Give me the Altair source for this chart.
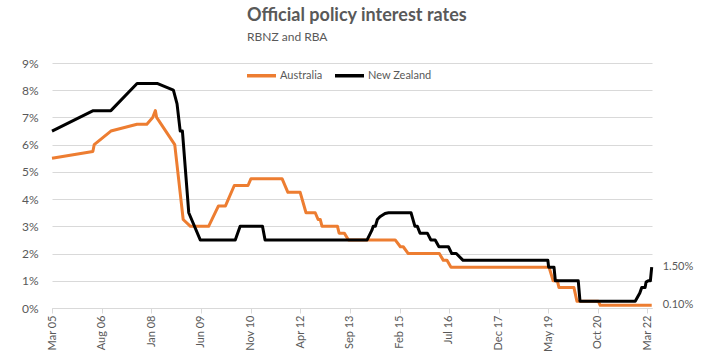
import altair as alt
import pandas as pd

# ---- data (vertices of each line) ----
aus_dates = [
    "2005-03-01", "2006-05-01", "2006-05-15", "2006-11-05", "2007-08-05", "2007-11-15",
    "2008-01-15", "2008-02-12", "2008-02-25", "2008-09-01", "2008-11-28", "2009-02-12",
    "2009-08-20", "2009-12-01", "2010-02-12", "2010-05-15", "2010-10-05", "2010-11-05",
    "2011-09-25", "2011-11-25", "2012-04-01", "2012-06-01", "2012-09-05", "2012-10-05",
    "2012-10-28", "2012-11-15", "2013-04-25", "2013-05-12", "2013-07-05", "2013-08-18",
    "2014-12-18", "2015-02-10", "2015-03-12", "2015-05-03", "2016-03-22", "2016-05-03",
    "2016-06-10", "2016-07-22", "2019-05-10", "2019-06-22", "2019-08-05", "2019-08-22",
    "2020-01-25", "2020-02-25", "2020-10-05", "2020-10-25", "2022-04-15",
]
aus_values = [
    5.5, 5.75, 6.0, 6.5, 6.75, 6.75,
    7.0, 7.25, 7.0, 6.0, 3.25, 3.0,
    3.0, 3.75, 3.75, 4.5, 4.5, 4.75,
    4.75, 4.25, 4.25, 3.5, 3.5, 3.25,
    3.25, 3.0, 3.0, 2.75, 2.75, 2.5,
    2.5, 2.25, 2.25, 2.0, 2.0, 1.75,
    1.75, 1.5, 1.5, 1.0, 1.0, 0.75,
    0.75, 0.25, 0.25, 0.1, 0.1,
]

nz_dates = [
    "2005-03-01", "2006-05-05", "2006-11-05", "2007-08-05", "2008-03-01", "2008-08-18",
    "2008-09-25", "2008-10-28", "2008-11-20", "2009-01-25", "2009-05-25", "2010-05-25",
    "2010-07-15", "2011-03-05", "2011-04-01", "2014-02-28", "2014-04-18", "2014-05-03",
    "2014-05-25", "2014-06-15", "2014-07-12", "2014-09-03", "2014-10-10", "2015-06-01",
    "2015-07-12", "2015-08-06", "2015-09-03", "2015-11-18", "2015-12-25", "2016-02-08",
    "2016-03-18", "2016-06-25", "2016-07-30", "2016-09-15", "2016-11-25", "2019-04-28",
    "2019-05-06", "2019-07-01", "2019-07-15", "2020-03-10", "2020-03-28", "2021-10-25",
    "2021-12-12", "2022-01-01", "2022-02-05", "2022-02-15", "2022-03-10", "2022-04-01",
    "2022-04-15",
]
nz_values = [
    6.5, 7.25, 7.25, 8.25, 8.25, 8.0,
    7.5, 6.5, 6.5, 3.5, 2.5, 2.5,
    3.0, 3.0, 2.5, 2.5, 2.85, 3.0,
    3.0, 3.25, 3.35, 3.47, 3.5, 3.5,
    3.0, 3.0, 2.75, 2.75, 2.5, 2.5,
    2.25, 2.25, 2.0, 2.0, 1.75, 1.75,
    1.5, 1.5, 1.0, 1.0, 0.25, 0.25,
    0.55, 0.75, 0.75, 0.95, 1.0, 1.0,
    1.5,
]

series_names = ["Australia", "New Zealand"]
series_colors = ["#ED7D31", "#000000"]

# x-axis tick labels (year, month)
tick_months = [
    (2005, 3), (2006, 8), (2008, 1), (2009, 6), (2010, 11), (2012, 4), (2013, 9),
    (2015, 2), (2016, 7), (2017, 12), (2019, 5), (2020, 10), (2022, 3),
]
y_ticks = list(range(0, 10))

end_labels = ["1.50%", "0.10%"]
end_values = [1.5, 0.1]
end_date = "2022-04-15"

# ---- tables ----
df = pd.concat([
    pd.DataFrame({"date": pd.to_datetime(aus_dates), "rate": aus_values, "series": "Australia"}),
    pd.DataFrame({"date": pd.to_datetime(nz_dates), "rate": nz_values, "series": "New Zealand"}),
], ignore_index=True)
df["order"] = range(len(df))

lab = pd.DataFrame({"date": pd.to_datetime([end_date] * 2), "rate": end_values, "label": end_labels})

FONT = "Lato"
GREY = "#595959"

x_scale = alt.Scale(domain=[alt.DateTime(year=2005, month=3, date=1),
                            alt.DateTime(year=2022, month=4, date=18)])
y_scale = alt.Scale(domain=[0, 9], nice=False)

x_axis = alt.Axis(values=[alt.DateTime(year=y, month=m, date=1) for y, m in tick_months],
                  format="%b %y", labelAngle=-90, grid=False,
                  domainColor="#D9D9D9", tickColor="#D9D9D9", tickSize=5,
                  labelPadding=2, labelFont=FONT, labelFontSize=11, labelColor=GREY)
y_axis = alt.Axis(values=y_ticks, labelExpr="datum.value + '%'", domain=False,
                  ticks=False, grid=True, gridColor="#D9D9D9", labelPadding=14,
                  labelFont=FONT, labelFontSize=12, labelColor=GREY)

lines = alt.Chart(df).mark_line(strokeWidth=3, strokeJoin="round").encode(
    x=alt.X("date:T", scale=x_scale, title=None, axis=x_axis),
    y=alt.Y("rate:Q", scale=y_scale, title=None, axis=y_axis),
    color=alt.Color("series:N",
                    scale=alt.Scale(domain=series_names, range=series_colors),
                    legend=alt.Legend(title=None, orient="none", legendX=193, legendY=-4,
                                      direction="horizontal", symbolType="stroke",
                                      symbolStrokeWidth=3.5, symbolSize=841,
                                      labelFont=FONT, labelFontSize=11, labelColor=GREY,
                                      labelOffset=2, columnPadding=5, padding=0)),
    order="order:Q",
)

texts = alt.Chart(lab).mark_text(align="left", baseline="middle", dx=11,
                                 font=FONT, fontSize=11, color=GREY).encode(
    x=alt.X("date:T", scale=x_scale, title=None, axis=x_axis),
    y=alt.Y("rate:Q", scale=y_scale, title=None, axis=y_axis),
    text="label:N",
)

chart = alt.layer(lines, texts).properties(
    width=600, height=245,
    autosize=alt.AutoSizeParams(type="none"),
    padding={"left": 52, "top": 63, "right": 55, "bottom": 47},
    title=alt.TitleParams(text="Official policy interest rates", subtitle="RBNZ and RBA",
                          anchor="start", frame="group", dx=195, offset=14, font=FONT,
                          fontSize=18, fontWeight="bold", color=GREY, subtitleFont=FONT,
                          subtitleFontSize=12, subtitleColor=GREY, subtitlePadding=7),
).configure(background="white").configure_view(stroke=None)

chart.save("out.html", embed_options={"renderer": "svg", "actions": False})
